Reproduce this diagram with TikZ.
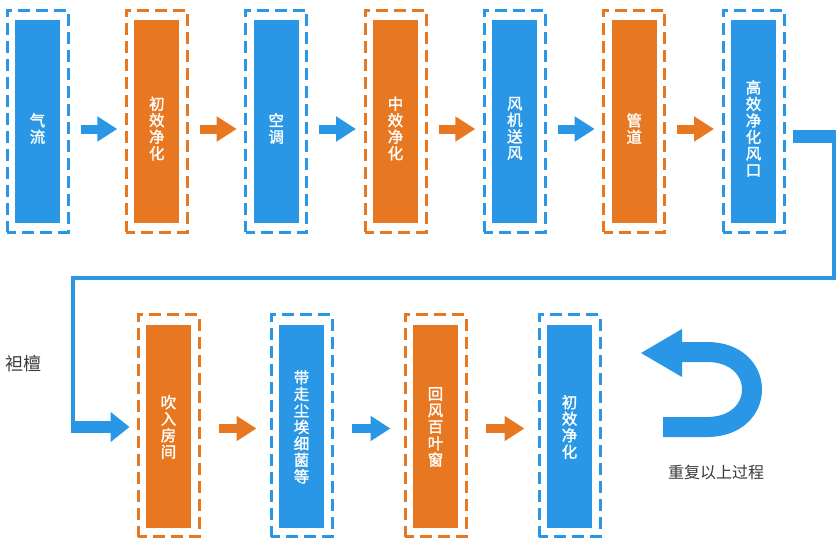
\documentclass[tikz,border=0pt]{standalone}
\usepackage{fontspec}
\newfontfamily\cjk{Noto Sans CJK SC}
\newfontfamily\cjkb{Noto Sans CJK SC}[FakeBold=1.6]
\usetikzlibrary{arrows.meta,calc}
\definecolor{cb}{HTML}{2997E6}
\definecolor{co}{HTML}{E87722}
\definecolor{ct}{HTML}{3A3A3A}
\tikzset{
 outerbox/.style={draw=#1, line width=3pt, dash pattern=on 12pt off 6pt, dash phase=3pt, minimum width=61pt, minimum height=222pt, inner sep=0pt},
 innerbox/.style={fill=#1, minimum width=45pt, minimum height=203pt, inner sep=0pt},
 vtext/.style={text=white, font=\cjkb\fontsize{15.5}{16.5}\selectfont, align=center, inner sep=0pt},
 flow/.style={draw=#1, line width=9pt, -{Triangle[length=20pt,width=24pt]}},
 plain/.style={text=ct, inner sep=0pt},
}
\begin{document}
\begin{tikzpicture}[x=1pt,y=-1pt]
\useasboundingbox (0,0) rectangle (840,546);
% top row
\foreach \i/\x/\c/\t in {1/37.5/cb/{气\\流},2/156.8/co/{初\\效\\净\\化},3/276.2/cb/{空\\调},4/395.5/co/{中\\效\\净\\化},5/514.8/cb/{风\\机\\送\\风},6/634.2/co/{管\\道},7/753.5/cb/{高\\效\\净\\化\\风\\口}}{
  \node[outerbox=\c] (o\i) at (\x,121) {};
  \node[innerbox=\c] (b\i) at (\x,121.5) {};
  \node[vtext] (t\i) at (\x,128.5) {\t};
}
% bottom row
\foreach \i/\x/\c/\t in {1/168.5/co/{吹\\入\\房\\间},2/301.5/cb/{带\\走\\尘\\埃\\细\\菌\\等},3/435.5/co/{回\\风\\百\\叶\\窗},4/569.5/cb/{初\\效\\净\\化}}{
  \node[outerbox=\c] (p\i) at (\x,425.5) {};
  \node[innerbox=\c] (q\i) at (\x,426.5) {};
  \node[vtext] (u\i) at (\x,427) {\t};
}
% top arrows
\foreach \i/\j/\c in {1/2/cb,2/3/co,3/4/cb,4/5/co,5/6/cb,6/7/co}{
  \draw[flow=\c] ([shift={(11,8)}]o\i.east) -- ([shift={(-7.5,8)}]o\j.west);
}
% bottom arrows
\foreach \i/\j/\c in {1/2/co,2/3/cb,3/4/co}{
  \draw[flow=\c] ([shift={(18,3)}]p\i.east) -- ([shift={(-13,3)}]p\j.west);
}
% return connector
\coordinate (k0) at (834.25,134);
\coordinate (k1) at (834.25,278);
\coordinate (k2) at (73,278);
\coordinate (k3) at (73,427);
\coordinate (k4) at (71,427);
\fill[cb] ([shift={(7.7,9)}]o7.east) rectangle (836,143.3);
\draw[cb, line width=3.6pt, line join=miter] (k0) -- (k1) -- (k2) -- (k3);
\draw[cb, line width=12pt, -{Triangle[length=19pt,width=29pt]}] (k4) -- ([shift={(-7,1.5)}]p1.west);
% U-turn arrow
\draw[cb, line width=20pt] (680,352) -- (707,352) .. controls (767,352) and (767,427) .. (707,427) -- (663,427);
\fill[cb] (641,353) -- (682,329) -- (682,377) -- cycle;
% texts
\node[plain, anchor=west, font=\cjk\fontsize{18}{18}\selectfont] (lab) at (5,363.5) {袒檀};
\node[plain, font=\cjk\fontsize{16}{16}\selectfont] (rep) at (716,472.5) {重复以上过程};
\end{tikzpicture}
\end{document}
